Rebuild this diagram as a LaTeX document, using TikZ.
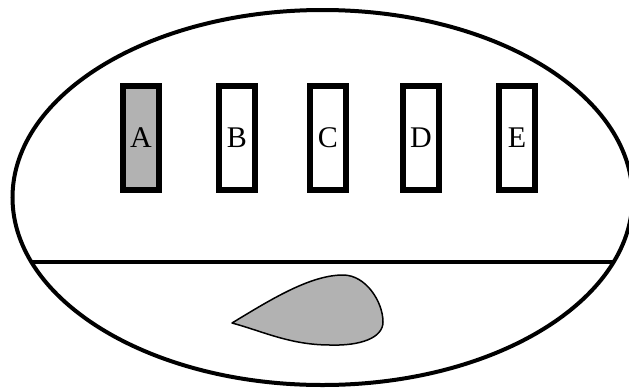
\documentclass[tikz,border=0pt]{standalone}
\usepackage{fontspec}
\setmainfont{Liberation Serif}
\usetikzlibrary{shapes.geometric}
\begin{document}
\begin{tikzpicture}[x=1pt,y=-1pt,
  slot/.style={draw=black,line width=6pt,minimum width=36pt,minimum height=104pt,
    inner sep=0pt,font=\fontsize{30}{35}\selectfont},
  shaded/.style={fill=black!30},
  outline/.style={draw=black,line width=4pt}]
  \useasboundingbox (0,0) rectangle (629,389);
  \clip (0,0) rectangle (629,389);
  % outer ellipse
  \node[outline,ellipse,minimum width=620pt,minimum height=375pt,inner sep=0pt] (shell) at (322.5,197.5) {};
  % dividing line across the lower part
  \begin{scope}
    \clip (322.5,197.5) ellipse (310 and 187.5);
    \coordinate (lineL) at (10,262);
    \coordinate (lineR) at (635,262);
    \draw[line width=4.5pt] (lineL) -- (lineR);
  \end{scope}
  % five slots
  \node[slot,shaded] (A) at (141,138) {A};
  \node[slot,fill=white] (B) at (237,138) {B};
  \node[slot,fill=white] (C) at (328,138) {C};
  \node[slot,fill=white] (D) at (421,138) {D};
  \node[slot,fill=white] (E) at (517,138) {E};
  % drop-shaped region
  \draw[line width=1.5pt,fill=black!30,line join=round]
    (232,323) .. controls (270,300) and (310,275) .. (343,275)
    .. controls (366,275) and (383,302) .. (383,322)
    .. controls (383,338) and (360,346) .. (330,345)
    .. controls (290,345) and (262,331) .. (232,323) -- cycle;
\end{tikzpicture}
\end{document}
